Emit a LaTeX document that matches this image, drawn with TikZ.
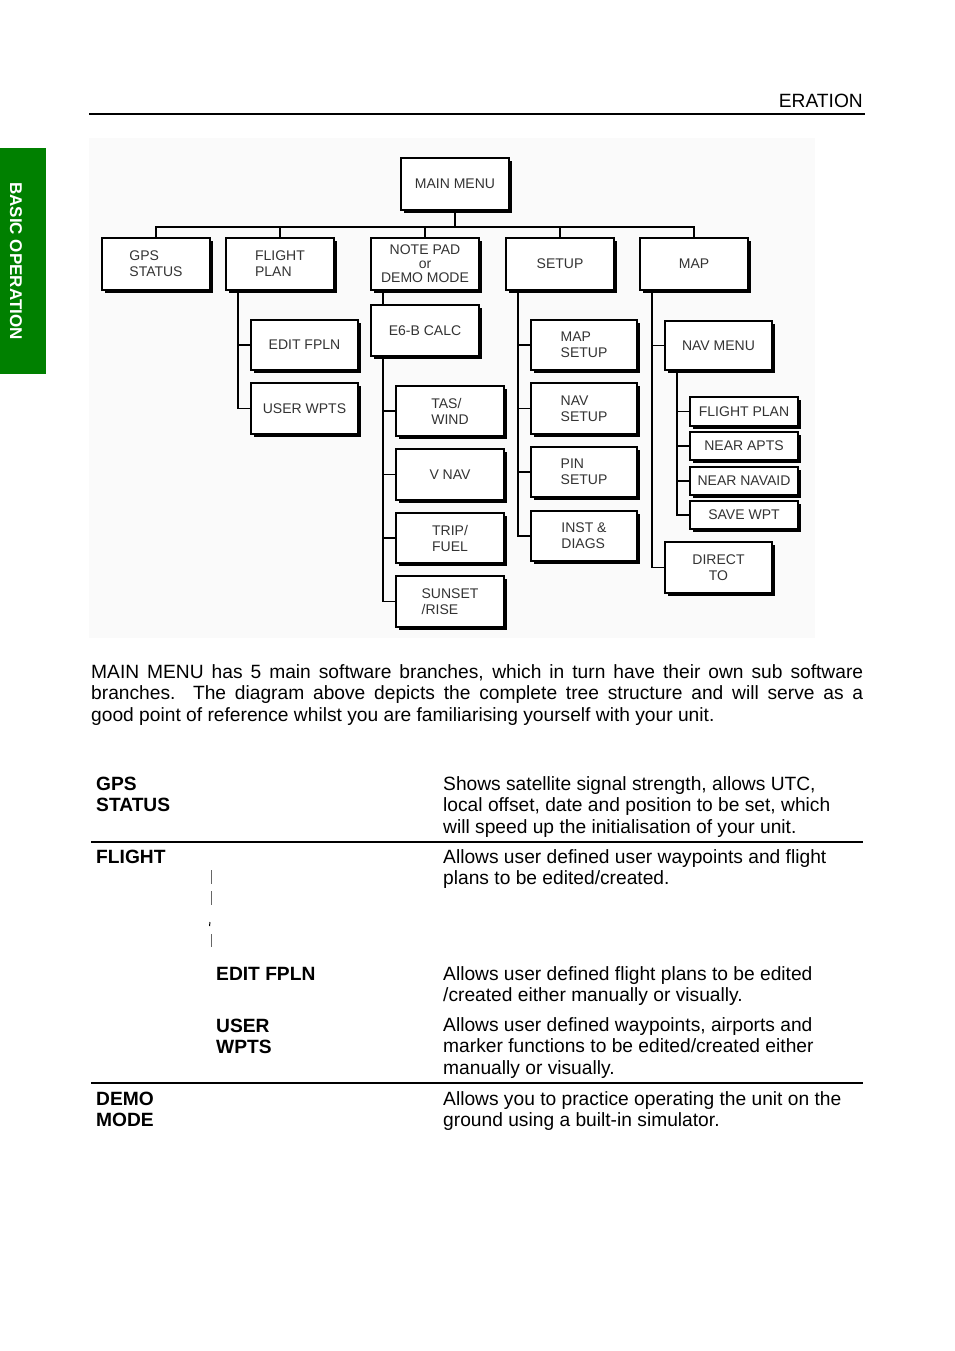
\documentclass[tikz,border=0pt]{standalone}
\usepackage{fontspec}
\setmainfont{Liberation Sans}
\usetikzlibrary{positioning, shadows}
\definecolor{tabgreen}{RGB}{0,128,0}

\begin{document}
\begin{tikzpicture}[x=1pt, y=-1pt,
	menubox/.style={draw, line width=1.6pt, fill=white, minimum width=108pt, minimum height=52pt, inner sep=1pt, align=left, text=black!80, font=\fontsize{14}{16}\selectfont, drop shadow={shadow xshift=3pt, shadow yshift=-3pt, fill=black, opacity=1}},
	thinbox/.style={menubox, minimum height=29pt},
	link/.style={line width=1.6pt},
	body/.style={font=\fontsize{19.2}{21.6}\selectfont, inner sep=0pt, anchor=base west, align=left},
	head/.style={body, font=\fontsize{19.2}{21.6}\selectfont\bfseries}]
	
	\fill[white] (0,0) rectangle (954,1351);
	\useasboundingbox (0,0) rectangle (954,1351);
	
	% Cabecera y pestaña
	\node[body, anchor=base east] (hdr) at (863,108) {ERATION};
	\draw[line width=1.2pt] (89,114) -- (865,114);
	\fill[tabgreen] (0,148) rectangle (46,374);
	\node[rotate=-90, text=white, font=\fontsize{17}{17}\selectfont\bfseries] (tab) at (16,261) {BASIC OPERATION};
	
	% Fondo del diagrama
	\fill[black!2] (89,138) rectangle (815,638);
	
	% Fila superior
	\node[menubox] (main) at (455,184) {MAIN MENU};
	\node[menubox] (gps) at (156,264) {GPS\\STATUS};
	\node[menubox] (fpl) at (280,264) {FLIGHT\\PLAN};
	\node[menubox, align=center, font=\fontsize{14}{14}\selectfont] (note) at (425,264) {NOTE PAD\\or\\DEMO MODE};
	\node[menubox] (setup) at (560,264) {SETUP};
	\node[menubox] (map) at (694,264) {MAP};
	
	% Ramas
	\node[menubox, minimum width=107pt, minimum height=50pt] (editfpln) at (304.5,345) {EDIT FPLN};
	\node[menubox, minimum width=107pt, minimum height=51pt] (userwpts) at (304.5,408.5) {USER WPTS};
	\node[menubox, minimum height=51pt] (e6b) at (425,330.5) {E6-B CALC};
	\node[menubox, minimum height=50pt] (tas) at (450,411) {TAS/\\WIND};
	\node[menubox, minimum height=51pt] (vnav) at (450,474.5) {V NAV};
	\node[menubox, minimum height=50pt] (trip) at (450,538) {TRIP/\\FUEL};
	\node[menubox, minimum height=51pt] (sunset) at (450,601.5) {SUNSET\\/RISE};
	\node[menubox, minimum width=106pt, minimum height=50pt] (mapsetup) at (584,345) {MAP\\SETUP};
	\node[menubox, minimum width=106pt, minimum height=51pt] (navsetup) at (584,408.5) {NAV\\SETUP};
	\node[menubox, minimum width=106pt, minimum height=50pt] (pinsetup) at (584,472) {PIN\\SETUP};
	\node[menubox, minimum width=106pt, minimum height=50pt] (inst) at (584,536) {INST \&\\DIAGS};
	\node[menubox, minimum width=107pt, minimum height=49pt] (navmenu) at (718.5,345.5) {NAV MENU};
	\node[thinbox] (fp2) at (744,411.5) {FLIGHT PLAN};
	\node[thinbox, minimum height=28pt] (apts) at (744,446) {NEAR APTS};
	\node[thinbox, minimum height=28pt] (navaid) at (744,481) {NEAR NAVAID};
	\node[thinbox, minimum height=28pt] (savewpt) at (744,515) {SAVE WPT};
	\node[menubox, minimum width=107pt, minimum height=51pt, align=center] (direct) at (718.5,567.5) {DIRECT\\TO};
	
	% Conexiones
	\coordinate (bus) at ([yshift=-16pt]main.south);
	\draw[link] (main.south) -- (bus);
	\foreach \b in {gps,fpl,note,setup,map}
		\draw[link] (bus) -| (\b.north);
	\foreach \b in {editfpln,userwpts}
		\draw[link] ([xshift=13pt]fpl.south west) |- (\b.west);
	\draw[link] ([xshift=13pt]note.south west) -- ([xshift=13pt]e6b.north west);
	\foreach \b in {tas,vnav,trip,sunset}
		\draw[link] ([xshift=13pt]e6b.south west) |- (\b.west);
	\foreach \b in {mapsetup,navsetup,pinsetup,inst}
		\draw[link] ([xshift=13pt]setup.south west) |- (\b.west);
	\foreach \b in {navmenu,direct}
		\draw[link] ([xshift=13pt]map.south west) |- (\b.west);
	\foreach \b in {fp2,apts,navaid,savewpt}
		\draw[link] ([xshift=13pt]navmenu.south west) |- (\b.west);
	
	% Texto
	\node[body, text width=772pt, align=justify] (intro) at (91,678) {MAIN MENU has 5 main software branches, which in turn have their own sub software\linebreak branches.\ \ The diagram above depicts the complete tree structure and will serve as a\linebreak good point of reference whilst you are familiarising yourself with your unit.};
	
	% Tabla (base = linea final)
	\node[head] (gpshd) at (96,811.6) {GPS\\STATUS};
	\node[body] (gpstx) at (443,833.2) {Shows satellite signal strength, allows UTC,\\local offset, date and position to be set, which\\will speed up the initialisation of your unit.};
	\draw[line width=1.2pt] (91,842) -- (863,842);
	\node[head] (flthd) at (96,863) {FLIGHT};
	\node[body] (flttx) at (443,884.6) {Allows user defined user waypoints and flight\\plans to be edited/created.};
	\foreach \a/\b in {870/884, 891/905, 934/947}
		\draw[black!60, line width=0.8pt] (211,\a) -- (211,\b);
	\draw[line width=1pt] (210,922) -- (209.5,926);
	\node[head] (edithd) at (216,980) {EDIT FPLN};
	\node[body] (edittx) at (443,1001.6) {Allows user defined flight plans to be edited\\/created either manually or visually.};
	\node[head] (userhd) at (216,1053.6) {USER\\WPTS};
	\node[body] (usertx) at (443,1074.2) {Allows user defined waypoints, airports and\\marker functions to be edited/created either\\manually or visually.};
	\draw[line width=1.2pt] (91,1083) -- (863,1083);
	\node[head] (demohd) at (96,1126.6) {DEMO\\MODE};
	\node[body] (demotx) at (443,1126.6) {Allows you to practice operating the unit on the\\ground using a built-in simulator.};
\end{tikzpicture}
\end{document}
